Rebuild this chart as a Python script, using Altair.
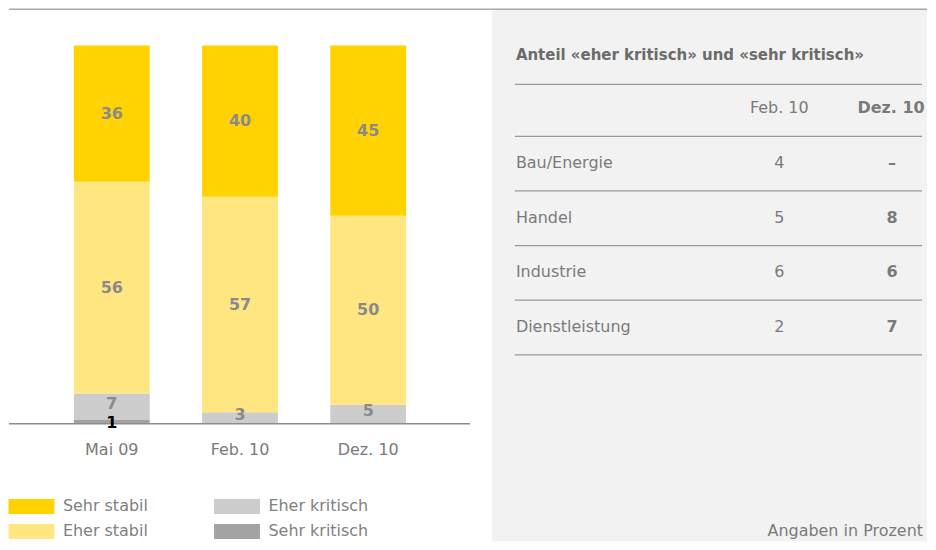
import altair as alt
import pandas as pd

# ---------------- data ----------------
categories = ["Mai 09", "Feb. 10", "Dez. 10"]
stack_order = ["Sehr kritisch", "Eher kritisch", "Eher stabil", "Sehr stabil"]
sehr_kritisch = [1, 0, 0]
eher_kritisch = [7, 3, 5]
eher_stabil = [56, 57, 50]
sehr_stabil = [36, 40, 45]

legend_order = ["Sehr stabil", "Eher stabil", "Eher kritisch", "Sehr kritisch"]
legend_colors = ["#ffd200", "#ffe680", "#cccccc", "#a3a3a3"]

table_title = "Anteil «eher kritisch» und «sehr kritisch»"
table_cols = ["Feb. 10", "Dez. 10"]
table_rows = ["Bau/Energie", "Handel", "Industrie", "Dienstleistung"]
table_feb = ["4", "5", "6", "2"]
table_dez = ["–", "8", "6", "7"]
note = "Angaben in Prozent"

FONT = "DejaVu Sans"
GREY_TXT = "#7a7a7a"

# ---------------- bar data ----------------
values = {
    "Sehr kritisch": sehr_kritisch,
    "Eher kritisch": eher_kritisch,
    "Eher stabil": eher_stabil,
    "Sehr stabil": sehr_stabil,
}
rows = []
for i, c in enumerate(categories):
    base = 0
    for s in stack_order:
        v = values[s][i]
        rows.append({
            "cat": c, "series": s, "value": v,
            "start": base, "end": base + v, "mid": base + v / 2,
        })
        base += v
bars_df = pd.DataFrame(rows)
labels_df = bars_df[bars_df["value"] > 0]
big_lbl = labels_df[labels_df["series"].isin(["Eher stabil", "Sehr stabil"])]
mid_lbl = labels_df[labels_df["series"] == "Eher kritisch"]
low_lbl = labels_df[labels_df["series"] == "Sehr kritisch"]

W_LEFT, W_RIGHT, H = 484, 436, 534

xs = alt.Scale(domain=categories, range=[38.75, 424.25],
               paddingInner=0.4086, paddingOuter=0.2043)
ys = alt.Scale(domain=[0, 100], range=[416, 37])

bars = alt.Chart(bars_df).mark_bar().encode(
    x=alt.X("cat:N", scale=xs, axis=None, sort=categories),
    y=alt.Y("start:Q", scale=ys, axis=None),
    y2="end:Q",
    color=alt.Color(
        "series:N",
        scale=alt.Scale(domain=legend_order, range=legend_colors),
        legend=alt.Legend(
            title=None, orient="none", legendX=14.5, legendY=491,
            columns=2, columnPadding=65, rowPadding=9,
            symbolType="M-3.0667,-1H3.0667V1H-3.0667Z", symbolSize=225,
            symbolStrokeWidth=0, symbolOpacity=1,
            labelFont=FONT, labelFontSize=16, labelColor="#808080",
            labelOffset=23.5,
        ),
    ),
)

baseline = alt.Chart(pd.DataFrame({"v": [0]})).mark_rule(
    color="#8c8c8c", strokeWidth=1.5
).encode(
    y=alt.Y("v:Q", scale=ys, axis=None),
    x=alt.value(0), x2=alt.value(462),
)


def seg_text(df, color, dy):
    return alt.Chart(df).mark_text(
        font=FONT, fontSize=16, fontWeight="bold", baseline="middle",
        color=color, dy=dy
    ).encode(
        x=alt.X("cat:N", scale=xs, axis=None, sort=categories),
        y=alt.Y("mid:Q", scale=ys, axis=None),
        text=alt.Text("value:Q"),
    )


lbl_big = seg_text(big_lbl, "#8a8a8a", 0)
lbl_mid = seg_text(mid_lbl, "#8a8a8a", -3)
lbl_low = seg_text(low_lbl, "#000000", 1)

x_labels = alt.Chart(pd.DataFrame({"cat": categories, "v": [0] * 3})).mark_text(
    font=FONT, fontSize=16, color=GREY_TXT, baseline="middle", dy=26
).encode(
    x=alt.X("cat:N", scale=xs, axis=None, sort=categories),
    y=alt.Y("v:Q", scale=ys, axis=None),
    text="cat:N",
)

top_line_l = alt.Chart(pd.DataFrame({"a": [0]})).mark_rule(
    color="#a8a8a8", strokeWidth=1.5
).encode(y=alt.value(0.75), x=alt.value(0), x2=alt.value(W_LEFT))

left = alt.layer(
    top_line_l, bars, baseline, lbl_big, lbl_mid, lbl_low, x_labels
).properties(width=W_LEFT, height=H)

# ---------------- table ----------------
row_domain = ["Kopf"] + table_rows
yr = alt.Scale(type="point", domain=row_domain, range=[100, 319], padding=0)
xc = alt.Scale(type="point", domain=table_cols, range=[288, 401], padding=0)

top_line_r = alt.Chart(pd.DataFrame({"a": [0]})).mark_rule(
    color="#a8a8a8", strokeWidth=1.5
).encode(y=alt.value(0.75), x=alt.value(0), x2=alt.value(W_RIGHT))

title_t = alt.Chart(pd.DataFrame({"t": [table_title]})).mark_text(
    font=FONT, fontSize=15, fontWeight="bold", color="#6b6b6b",
    align="left", baseline="middle"
).encode(x=alt.value(24), y=alt.value(47), text="t:N")

rules_df = pd.DataFrame({"row": row_domain})
rules_below = alt.Chart(rules_df).mark_rule(
    color="#9a9a9a", strokeWidth=1.2, yOffset=28
).encode(
    y=alt.Y("row:N", scale=yr, axis=None),
    x=alt.value(23), x2=alt.value(431),
)
rule_top = alt.Chart(pd.DataFrame({"row": ["Kopf"]})).mark_rule(
    color="#9a9a9a", strokeWidth=1.2, yOffset=-24
).encode(
    y=alt.Y("row:N", scale=yr, axis=None),
    x=alt.value(23), x2=alt.value(431),
)

head_feb = alt.Chart(pd.DataFrame({"row": ["Kopf"], "col": [table_cols[0]]})).mark_text(
    font=FONT, fontSize=16, color=GREY_TXT, baseline="middle"
).encode(
    x=alt.X("col:N", scale=xc, axis=None),
    y=alt.Y("row:N", scale=yr, axis=None),
    text="col:N",
)
head_dez = alt.Chart(pd.DataFrame({"row": ["Kopf"], "col": [table_cols[1]]})).mark_text(
    font=FONT, fontSize=16, fontWeight="bold", color=GREY_TXT, baseline="middle",
    dx=-1
).encode(
    x=alt.X("col:N", scale=xc, axis=None),
    y=alt.Y("row:N", scale=yr, axis=None),
    text="col:N",
)

row_labels = alt.Chart(pd.DataFrame({"row": table_rows})).mark_text(
    font=FONT, fontSize=16, color=GREY_TXT, align="left", baseline="middle"
).encode(
    x=alt.value(24),
    y=alt.Y("row:N", scale=yr, axis=None),
    text="row:N",
)

feb_df = pd.DataFrame({"row": table_rows, "col": table_cols[0], "val": table_feb})
dez_df = pd.DataFrame({"row": table_rows, "col": table_cols[1], "val": table_dez})

feb_vals = alt.Chart(feb_df).mark_text(
    font=FONT, fontSize=16, color=GREY_TXT, baseline="middle"
).encode(
    x=alt.X("col:N", scale=xc, axis=None),
    y=alt.Y("row:N", scale=yr, axis=None),
    text="val:N",
)
dez_vals = alt.Chart(dez_df).mark_text(
    font=FONT, fontSize=16, fontWeight="bold", color=GREY_TXT, baseline="middle"
).encode(
    x=alt.X("col:N", scale=xc, axis=None),
    y=alt.Y("row:N", scale=yr, axis=None),
    text="val:N",
)

note_t = alt.Chart(pd.DataFrame({"t": [note]})).mark_text(
    font=FONT, fontSize=16, color=GREY_TXT, align="right", baseline="middle"
).encode(x=alt.value(432), y=alt.value(524), text="t:N")

right = alt.layer(
    top_line_r, title_t, rule_top, rules_below, head_feb, head_dez,
    row_labels, feb_vals, dez_vals, note_t
).properties(
    width=W_RIGHT, height=H,
    view=alt.ViewBackground(fill="#f2f2f2", strokeWidth=0),
)

chart = alt.hconcat(left, right, spacing=0, bounds="flush").properties(
    padding=0
).configure(font=FONT).configure_view(strokeWidth=0)

chart.save("out.html", embed_options={"renderer": "svg", "actions": False})
